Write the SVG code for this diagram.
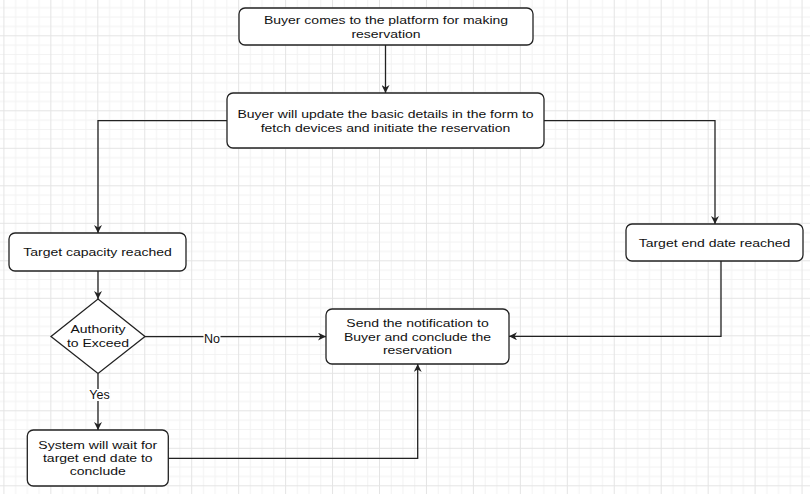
<svg xmlns="http://www.w3.org/2000/svg" width="810" height="494" viewBox="0 0 810 494">
<style>
.node rect, .node polygon { fill: #ffffff; stroke: #222222; stroke-width: 1.3; }
.node text { font-family: "Liberation Sans", Arial, sans-serif; font-size: 11.6px; fill: #111111; text-anchor: middle; }
.edge { fill: none; stroke: #222222; stroke-width: 1.3; marker-end: url(#arrow); }
.lbl { font-family: "Liberation Sans", Arial, sans-serif; font-size: 12.5px; fill: #111111; text-anchor: middle; }
.lblbg { fill: #ffffff; }
</style>
<defs>
<pattern id="grid" patternUnits="userSpaceOnUse" x="3.4" y="-2.2" width="46.95" height="37.5">
<g stroke="#f2f2f2" stroke-width="1">
<line x1="12.24" y1="0" x2="12.24" y2="37.5"/>
<line x1="23.97" y1="0" x2="23.97" y2="37.5"/>
<line x1="35.71" y1="0" x2="35.71" y2="37.5"/>
<line x1="0" y1="9.875" x2="46.95" y2="9.875"/>
<line x1="0" y1="19.25" x2="46.95" y2="19.25"/>
<line x1="0" y1="28.625" x2="46.95" y2="28.625"/>
</g>
<g stroke="#e4e4e4" stroke-width="1">
<line x1="0.5" y1="0" x2="0.5" y2="37.5"/>
<line x1="0" y1="0.5" x2="46.95" y2="0.5"/>
</g>
</pattern>
<marker id="arrow" viewBox="0 0 10 10" refX="10" refY="5" markerWidth="8" markerHeight="8" markerUnits="userSpaceOnUse" orient="auto">
<path d="M0,0 L10,5 L0,10 L3,5 Z" fill="#222222"/>
</marker>
</defs>
<rect x="0" y="0" width="810" height="494" fill="#ffffff"/>
<rect x="0" y="0" width="810" height="494" fill="url(#grid)"/>

<g id="connectors">
<path class="edge" d="M385.5,45 V93"/>
<path class="edge" d="M227,120.7 H98 V233"/>
<path class="edge" d="M544,120.7 H715 V224"/>
<path class="edge" d="M98,271 V299"/>
<path class="edge" d="M145,336.6 H326"/>
<path class="edge" d="M721,261 V336.3 H509"/>
<path class="edge" d="M98,373.4 V430"/>
<path class="edge" d="M168,458.3 H417.7 V364"/>
<rect class="lblbg" x="203.5" y="332" width="17" height="12"/>
<text class="lbl" x="212" y="342.5">No</text>
<rect class="lblbg" x="89" y="389" width="21" height="12"/>
<text class="lbl" x="99.5" y="399.3">Yes</text>
</g>

<g id="n1" class="node">
<rect x="239" y="8" width="294" height="37" rx="6" ry="6"/>
<g transform="translate(386 0) scale(1.207 1)">
<text x="0" y="24.3">Buyer comes to the platform for making</text>
<text x="0" y="37.6">reservation</text>
</g>
</g>
<g id="n2" class="node">
<rect x="227" y="93" width="317" height="55" rx="6" ry="6"/>
<g transform="translate(385.5 0) scale(1.207 1)">
<text x="0" y="118.3">Buyer will update the basic details in the form to</text>
<text x="0" y="131.6">fetch devices and initiate the reservation</text>
</g>
</g>
<g id="n3" class="node">
<rect x="9" y="233" width="177" height="38" rx="6" ry="6"/>
<g transform="translate(97.5 0) scale(1.207 1)">
<text x="0" y="256.3">Target capacity reached</text>
</g>
</g>
<g id="n4" class="node">
<rect x="626" y="224" width="177" height="37" rx="6" ry="6"/>
<g transform="translate(714.5 0) scale(1.207 1)">
<text x="0" y="246.8">Target end date reached</text>
</g>
</g>
<g id="n5" class="node">
<polygon points="98,299 145,336.6 98,373.4 51,336.6"/>
<g transform="translate(98 0) scale(1.207 1)">
<text x="0" y="333.3">Authority</text>
<text x="0" y="347.2">to Exceed</text>
</g>
</g>
<g id="n6" class="node">
<rect x="326" y="309" width="183" height="55" rx="6" ry="6"/>
<g transform="translate(417.5 0) scale(1.207 1)">
<text x="0" y="327.4">Send the notification to</text>
<text x="0" y="340.7">Buyer and conclude the</text>
<text x="0" y="354">reservation</text>
</g>
</g>
<g id="n7" class="node">
<rect x="27.3" y="430" width="141" height="56" rx="6" ry="6"/>
<g transform="translate(97.8 0) scale(1.207 1)">
<text x="0" y="448.8">System will wait for</text>
<text x="0" y="462.1">target end date to</text>
<text x="0" y="475.4">conclude</text>
</g>
</g>
</svg>
